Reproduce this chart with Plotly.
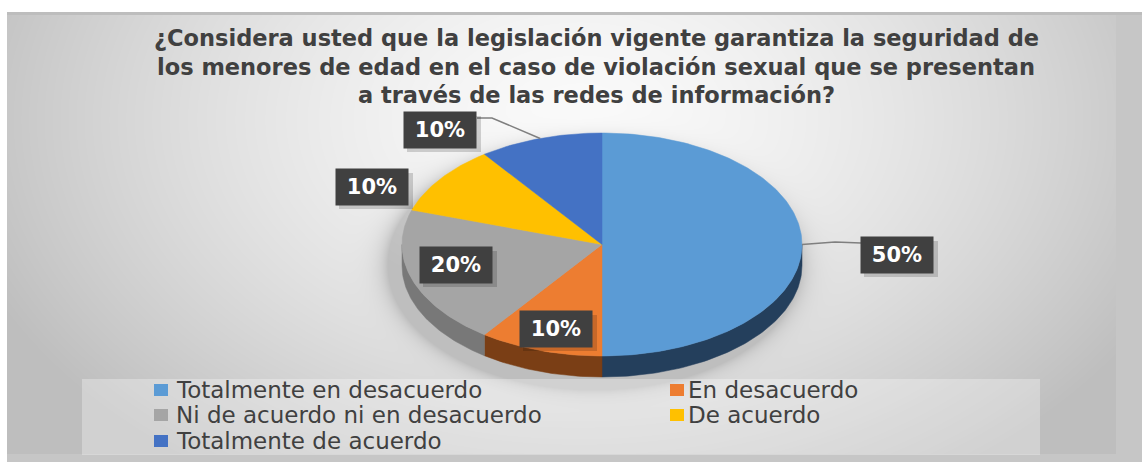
import base64
import struct
import zlib

import numpy as np
import plotly.graph_objects as go

# ---------------- data ----------------
categories = [
    "Totalmente en desacuerdo",
    "En desacuerdo",
    "Ni de acuerdo ni en desacuerdo",
    "De acuerdo",
    "Totalmente de acuerdo",
]
values = [50, 10, 20, 10, 10]
title_lines = [
    "¿Considera usted que la legislación vigente garantiza la seguridad de",
    "los menores de edad en el caso de violación sexual que se presentan",
    "a través de las redes de información?",
]

# ---------------- style ----------------
top_colors = ["#5B9BD5", "#ED7D31", "#A5A5A5", "#FFC000", "#4472C4"]
side_colors = ["#243F5C", "#7A3E15", "#787878", "#8C6A00", "#2B4A80"]
W, H = 1142, 462
CX, CY, RX, RY, DEPTH = 602, 244.5, 200, 111.5, 21
label_pos = [(897, 255), (556, 329), (456, 265), (372, 187), (440, 130)]
connectors = {0: [(835, 242), (861, 243)], 4: [(492, 118), (477, 118)]}
FONT = "DejaVu Sans"
TXT = "#404040"


# ---------------- background image (gradient panel + soft pie shadow) ----------------
def make_background():
    X, Y = np.meshgrid(np.arange(W) + 0.5, np.arange(H) + 0.5)
    d = np.sqrt(((X - 580) / 600) ** 2 + ((Y - 120) / 400) ** 2)
    g = 250 - 54 * d ** 1.5
    sd = np.sqrt(((X - 594) / 206) ** 2 + ((Y - 264) / 124) ** 2)
    shadow = 42 * np.exp(-np.clip(sd - 1.0, 0, None) / 0.05)
    g = g - np.where(sd > 0.9, shadow, 42)
    g = np.clip(g, 190, 250)
    g[(X > 1116) | (Y > 454)] = 198
    g[(Y < 15.5)] = 189
    g[(X < 7) | (Y < 12)] = 255
    arr = np.repeat(np.round(g).astype(np.uint8)[:, :, None], 3, axis=2)
    raw = b"".join(b"\x00" + arr[i].tobytes() for i in range(H))

    def chunk(t, data):
        c = struct.pack(">I", len(data)) + t + data
        return c + struct.pack(">I", zlib.crc32(t + data) & 0xFFFFFFFF)

    png = (b"\x89PNG\r\n\x1a\n"
           + chunk(b"IHDR", struct.pack(">IIBBBBB", W, H, 8, 2, 0, 0, 0))
           + chunk(b"IDAT", zlib.compress(raw, 9))
           + chunk(b"IEND", b""))
    return "data:image/png;base64," + base64.b64encode(png).decode()


def ell(theta_deg, dy=0.0):
    t = np.radians(theta_deg)
    return CX + RX * np.sin(t), CY - RY * np.cos(t) + dy


def arc(a, b, dy=0.0):
    n = max(2, int(abs(b - a)) + 2)
    th = np.linspace(a, b, n)
    return ell(th, dy)


fig = go.Figure()

total = sum(values)
starts, ends = [], []
acc = 0.0
for v in values:
    starts.append(acc / total * 360)
    acc += v
    ends.append(acc / total * 360)

# side walls (front half visible)
for i in range(len(values)):
    lo, hi = max(starts[i], 90), min(ends[i], 270)
    if hi <= lo:
        continue
    xt, yt = arc(lo, hi)
    xb, yb = arc(hi, lo, DEPTH)
    xs = np.concatenate([xt, xb, xt[:1]])
    ys = np.concatenate([yt, yb, yt[:1]])
    fig.add_trace(go.Scatter(x=xs, y=ys, mode="lines", fill="toself",
                             fillcolor=side_colors[i],
                             line=dict(color=side_colors[i], width=0.5),
                             hoverinfo="skip", showlegend=False))

# top faces
for i, c in enumerate(categories):
    xa, ya = arc(starts[i], ends[i])
    xs = np.concatenate([[CX], xa, [CX]])
    ys = np.concatenate([[CY], ya, [CY]])
    fig.add_trace(go.Scatter(x=xs, y=ys, mode="lines", fill="toself",
                             fillcolor=top_colors[i],
                             line=dict(color=top_colors[i], width=0.5),
                             name=c, text=f"{values[i]}%", hoverinfo="name+text",
                             showlegend=False))

# leader lines
for i, pts in connectors.items():
    mid = (starts[i] + ends[i]) / 2
    x0, y0 = ell(mid)
    xs = [x0] + [p[0] for p in pts]
    ys = [y0] + [p[1] for p in pts]
    fig.add_trace(go.Scatter(x=xs, y=ys, mode="lines",
                             line=dict(color="#7F7F7F", width=1.5),
                             hoverinfo="skip", showlegend=False))

shapes = []
annotations = []

# data labels
for i, (lx, ly) in enumerate(label_pos):
    pct = round(values[i] / total * 100)
    shapes.append(dict(type="rect", xref="x", yref="y",
                       x0=lx - 33, x1=lx + 41, y0=ly - 14, y1=ly + 22,
                       fillcolor="rgba(0,0,0,0.16)", line=dict(width=0), layer="above"))
    annotations.append(dict(x=lx, y=ly, xref="x", yref="y", text=f"<b>{pct}%</b>",
                            showarrow=False, bgcolor="#404040", width=70, height=34,
                            borderpad=1, font=dict(family=FONT, size=21, color="white")))

# title
for k, line in enumerate(title_lines):
    annotations.append(dict(x=596, y=38 + k * 28.5, xref="x", yref="y",
                            text=f"<b>{line}</b>", showarrow=False,
                            font=dict(family=FONT, size=22.5, color=TXT)))

# legend box
shapes.append(dict(type="rect", xref="x", yref="y", x0=82, x1=1040, y0=379, y1=455,
                   fillcolor="rgba(255,255,255,0.3)", line=dict(width=0), layer="above"))
leg_cols = [(154, 174), (670, 686)]
leg_rows = [390, 415, 441]
for i, c in enumerate(categories):
    (mx, tx) = leg_cols[i % 2]
    ry = leg_rows[i // 2]
    shapes.append(dict(type="rect", xref="x", yref="y", x0=mx, x1=mx + 14,
                       y0=ry - 6, y1=ry + 6, fillcolor=top_colors[i],
                       line=dict(width=0), layer="above"))
    annotations.append(dict(x=tx, y=ry, xref="x", yref="y", text=c, showarrow=False,
                            xanchor="left", yanchor="middle",
                            font=dict(family=FONT, size=23, color=TXT)))

fig.update_layout(
    width=W, height=H,
    margin=dict(l=0, r=0, t=0, b=0),
    paper_bgcolor="white", plot_bgcolor="rgba(0,0,0,0)",
    xaxis=dict(range=[0, W], visible=False, fixedrange=True),
    yaxis=dict(range=[H, 0], visible=False, fixedrange=True),
    images=[dict(source=make_background(), xref="paper", yref="paper", x=0, y=1,
                 sizex=1, sizey=1, xanchor="left", yanchor="top",
                 sizing="stretch", layer="below")],
    shapes=shapes,
    annotations=annotations,
    showlegend=False,
)

fig.write_html("out.html", config={"displayModeBar": False},
               post_script="document.body.style.margin='0';")
